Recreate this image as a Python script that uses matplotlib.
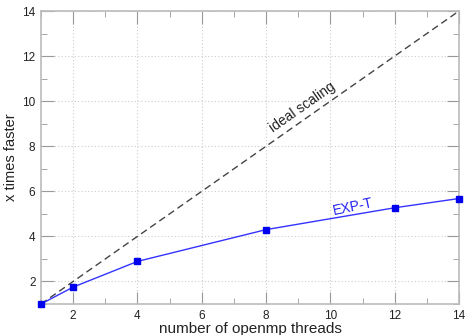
import matplotlib
matplotlib.use('Agg')
import matplotlib.pyplot as plt
from matplotlib.ticker import MultipleLocator

plt.rcParams['font.family'] = ['Liberation Sans', 'DejaVu Sans']

# dados
threads = [1, 2, 4, 8, 12, 14]
speedup = [1.0, 1.75, 2.89, 4.30, 5.27, 5.68]
ideal_x = [1, 14]
ideal_y = [1, 14]

fig = plt.figure(figsize=(4.66, 3.35), dpi=100)
ax = fig.add_axes([41 / 466, 1 - 304 / 335, 418 / 466, 293 / 335])

ax.plot(ideal_x, ideal_y, color='#444444', linestyle=(0, (5, 3)), linewidth=1.0)
ax.plot(threads, speedup, color='#3333ff', linewidth=1.0, clip_on=False, zorder=5,
        marker='s', markersize=4.3, markerfacecolor='#0000ee', markeredgecolor='#0000ee')

ax.text(9.12, 9.74, 'ideal scaling', rotation=35, color='#222222', fontsize=10,
        ha='center', va='center')
ax.text(10.7, 5.3, 'EXP-T', rotation=12, color='#2222ee', fontsize=10,
        ha='center', va='center')

ax.set_xlim(1, 14)
ax.set_ylim(1, 14)
ax.xaxis.set_minor_locator(MultipleLocator(1))
ax.yaxis.set_minor_locator(MultipleLocator(1))
ax.set_xticks([2, 4, 6, 8, 10, 12, 14])
ax.set_yticks([2, 4, 6, 8, 10, 12, 14])

ax.grid(True, which='major', color='#cccccc', linestyle=(0, (1, 2)), linewidth=0.8)
ax.tick_params(which='both', direction='in', top=True, right=True,
               color='#999999', labelsize=8.5, labelcolor='#222222', pad=4)
ax.tick_params(which='major', length=9)
ax.tick_params(which='minor', length=4.5)
for s in ax.spines.values():
    s.set_color('#bbbbbb')
    s.set_linewidth(1.2)

ax.set_xlabel('number of openmp threads', fontsize=11, color='#222222', labelpad=0)
ax.set_ylabel('x times faster', fontsize=10.5, color='#222222', labelpad=3)

fig.savefig('out.png', dpi=100)
